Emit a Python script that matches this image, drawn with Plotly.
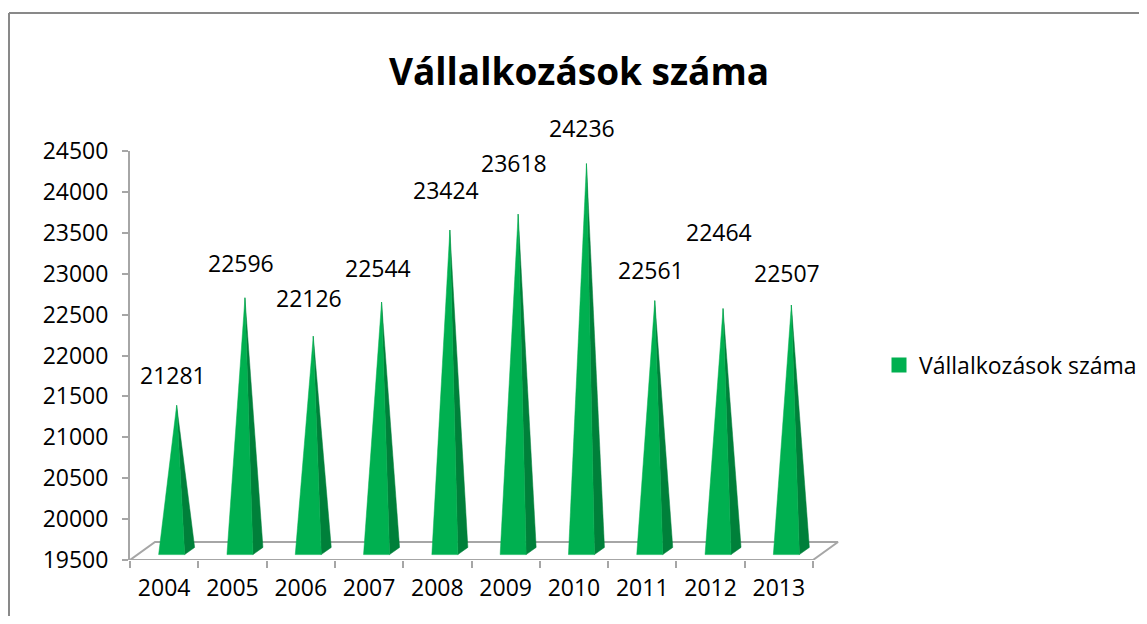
import plotly.graph_objects as go

# ---- data ----
years = ["2004", "2005", "2006", "2007", "2008", "2009", "2010", "2011", "2012", "2013"]
values = [21281, 22596, 22126, 22544, 23424, 23618, 24236, 22561, 22464, 22507]
series_name = "Vállalkozások száma"
y_ticks = list(range(19500, 24501, 500))

# ---- styling / geometry (not data) ----
FONT = "Open Sans"
FRONT = "#00B050"
SIDE = "#00803A"
GRID = "#A6A6A6"
YMIN, YMAX = 19500, 24500
PX_PER_CAT = 68.3
OFF = 8                      # page body margin
W, H = 1147 - 2 * OFF, 624 - 2 * OFF
ML, MT = 130 - OFF, 151 - OFF
plot_w = 710
plot_h = 409
MR = W - ML - plot_w
MB = H - MT - plot_h
PX_PER_VAL = plot_h / (YMAX - YMIN)
XMIN = -0.5
XMAX = XMIN + plot_w / PX_PER_CAT
DX = 25 / PX_PER_CAT          # full floor depth, in category units
DY = 18 / PX_PER_VAL          # full floor depth, in value units
HALF_W = 13 / PX_PER_CAT
D_FRONT, D_BACK, D_PEAK = 0.30, 0.70, 0.50
label_lift = [30, 35, 38, 34, 40, 51, 36, 31, 77, 32]

fig = go.Figure()

# floor
n = len(years)
x0, x1 = -0.5, n - 0.5
fig.add_trace(go.Scatter(
    x=[x0, x1, x1 + DX, x0 + DX, x0],
    y=[YMIN, YMIN, YMIN + DY, YMIN + DY, YMIN],
    mode="lines", line=dict(color=GRID, width=2),
    hoverinfo="skip", showlegend=False, cliponaxis=False))

# pyramids
for i, v in enumerate(values):
    flx = i - HALF_W + D_FRONT * DX
    frx = i + HALF_W + D_FRONT * DX
    fy = YMIN + D_FRONT * DY
    brx = i + HALF_W + D_BACK * DX
    by = YMIN + D_BACK * DY
    px = i + D_PEAK * DX
    py = v + D_PEAK * DY
    fig.add_trace(go.Scatter(
        x=[frx, brx, px, frx], y=[fy, by, py, fy],
        fill="toself", fillcolor=SIDE, mode="lines",
        line=dict(color=SIDE, width=0.5),
        hoverinfo="skip", showlegend=False))
    fig.add_trace(go.Scatter(
        x=[flx, frx, px, flx], y=[fy, fy, py, fy],
        fill="toself", fillcolor=FRONT, mode="lines",
        line=dict(color=FRONT, width=0.5),
        hoverinfo="skip", showlegend=False))
    fig.add_annotation(
        x=px, y=py, text=str(v), showarrow=False,
        xshift=-4, yshift=label_lift[i],
        font=dict(family=FONT, size=23, color="#000000"))

# legend entry
fig.add_trace(go.Scatter(
    x=[None], y=[None], mode="markers", name=series_name,
    marker=dict(symbol="square", size=15, color=FRONT)))

legend_x = (879 - OFF - ML) / plot_w
legend_y = (560 - 365) / plot_h

fig.update_layout(
    width=W, height=H, autosize=False,
    margin=dict(l=ML, r=MR, t=MT, b=MB, pad=0, autoexpand=False),
    paper_bgcolor="white", plot_bgcolor="white",
    title=dict(text="<b>Vállalkozások száma</b>", x=(579 - OFF) / W, xanchor="center",
               y=1 - (72 - OFF) / H, yanchor="middle",
               font=dict(family=FONT, size=37, color="#000000")),
    font=dict(family=FONT, size=23, color="#000000"),
    showlegend=True,
    legend=dict(x=legend_x, y=legend_y, xanchor="left", yanchor="middle",
                font=dict(family=FONT, size=23, color="#000000"),
                itemwidth=30, bgcolor="rgba(0,0,0,0)"),
    xaxis=dict(range=[XMIN, XMAX], showgrid=False, zeroline=False, showline=False,
               tickmode="array", tickvals=list(range(n)), ticktext=years,
               ticks="", ticklabelstandoff=12,
               minor=dict(tickmode="array", tickvals=[k - 0.5 for k in range(n + 1)],
                          ticks="outside", ticklen=7, tickcolor=GRID, tickwidth=2),
               fixedrange=True),
    yaxis=dict(range=[YMIN, YMAX], showgrid=False, zeroline=False,
               showline=True, linecolor=GRID, linewidth=2,
               tickmode="array", tickvals=y_ticks, ticktext=[str(t) for t in y_ticks],
               ticks="outside", ticklen=6, tickcolor=GRID, tickwidth=2,
               ticklabelstandoff=9, fixedrange=True),
)

# chart border (outer frame: only the left and top edges are in view)
bx = (9 - OFF - ML) / plot_w
by_top = (MT - (13 - OFF)) / plot_h + 1
fig.add_shape(type="line", xref="paper", yref="paper",
              x0=bx, x1=bx, y0=-(MB + 5) / plot_h, y1=by_top,
              line=dict(color="#898989", width=2), layer="below")
fig.add_shape(type="line", xref="paper", yref="paper",
              x0=bx, x1=(W + 5 - ML) / plot_w, y0=by_top, y1=by_top,
              line=dict(color="#898989", width=2), layer="below")

fig.write_html("out.html")
